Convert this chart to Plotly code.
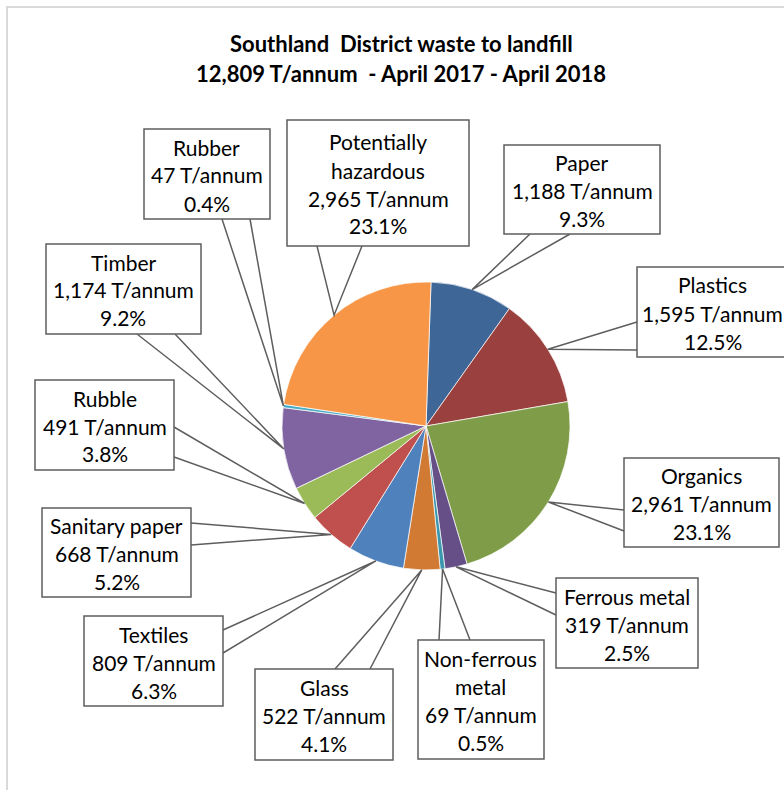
import math
import plotly.graph_objects as go

W, H = 784, 790

# ---- data ----
categories = ["Paper", "Plastics", "Organics", "Ferrous metal", "Non-ferrous metal", "Glass",
              "Textiles", "Sanitary paper", "Rubble", "Timber", "Rubber", "Potentially hazardous"]
tonnes = [1188, 1595, 2961, 319, 69, 522, 809, 668, 491, 1174, 47, 2965]
pct_labels = ["9.3%", "12.5%", "23.1%", "2.5%", "0.5%", "4.1%", "6.3%", "5.2%", "3.8%", "9.2%", "0.4%", "23.1%"]
name_lines = [["Paper"], ["Plastics"], ["Organics"], ["Ferrous metal"], ["Non-ferrous", "metal"], ["Glass"],
              ["Textiles"], ["Sanitary paper"], ["Rubble"], ["Timber"], ["Rubber"], ["Potentially", "hazardous"]]
title_lines = ["Southland  District waste to landfill", "12,809 T/annum  - April 2017 - April 2018"]

colors = ["#3E6798", "#9A403E", "#7F9C48", "#664F87", "#3A97AE", "#D07A33",
          "#4F81BD", "#C0504D", "#9BBB59", "#8064A2", "#4BACC6", "#F79646"]

# ---- layout parameters (pixels) ----
CX, CY, R = 426, 426, 144
ROT = 2
# label boxes: x0, y0, x1, y1 and the side of the box the callout leaves from with its two base offsets
boxes = {
    "Paper": (504, 145, 660, 234, "bottom", 530, 570),
    "Plastics": (637, 267, 792, 357, "left", 322, 350),
    "Organics": (624, 458, 779, 547, "left", 510, 531),
    "Ferrous metal": (556, 578, 698, 668, "left", 593, 615),
    "Non-ferrous metal": (418, 640, 544, 759, "top", 439, 470),
    "Glass": (255, 669, 393, 760, "top", 335, 370),
    "Textiles": (84, 616, 223, 706, "right", 630, 653),
    "Sanitary paper": (42, 508, 191, 597, "right", 523, 545),
    "Rubble": (35, 380, 174, 470, "right", 427, 457),
    "Timber": (46, 244, 201, 334, "bottom", 137, 175),
    "Rubber": (144, 129, 270, 219, "bottom", 222, 250),
    "Potentially hazardous": (287, 120, 469, 246, "bottom", 317, 362),
}


def px(x):
    return x / W


def py(y):
    return 1 - y / H


fig = go.Figure()
fig.add_trace(go.Pie(
    labels=categories, values=tonnes, sort=False, direction="clockwise", rotation=ROT,
    marker=dict(colors=colors, line=dict(color="rgba(255,255,255,0.7)", width=1)),
    textinfo="none", hoverinfo="label+value+percent", showlegend=False,
    domain=dict(x=[px(CX - R), px(CX + R)], y=[py(CY + R), py(CY - R)]),
))

shapes = []
annotations = []

# chart-area border
shapes.append(dict(type="path", xref="paper", yref="paper",
                   path=f"M {px(7)},{py(800)} L {px(7)},{py(7)} L {px(800)},{py(7)}",
                   line=dict(color="#D9D9D9", width=2)))

total = sum(tonnes)
cum = 0
for i, cat in enumerate(categories):
    v = tonnes[i]
    mid = cum + v / 2
    cum += v
    ang = math.radians(ROT + 360 * mid / total)
    tx = CX + R * math.sin(ang)
    ty = CY - R * math.cos(ang)
    x0, y0, x1, y1, side, b1, b2 = boxes[cat]
    if side == "bottom":
        p1, p2 = (b1, y1), (b2, y1)
    elif side == "top":
        p1, p2 = (b1, y0), (b2, y0)
    elif side == "left":
        p1, p2 = (x0, b1), (x0, b2)
    else:
        p1, p2 = (x1, b1), (x1, b2)
    shapes.append(dict(type="path", xref="paper", yref="paper",
                       path=f"M {px(p1[0])},{py(p1[1])} L {px(tx)},{py(ty)} L {px(p2[0])},{py(p2[1])}",
                       line=dict(color="#5E5E5E", width=1.5), fillcolor="rgba(0,0,0,0)"))
    shapes.append(dict(type="rect", xref="paper", yref="paper",
                       x0=px(x0), x1=px(x1), y0=py(y1), y1=py(y0),
                       line=dict(color="#5E5E5E", width=1.5), fillcolor="white"))
    lines = name_lines[i] + [f"{v:,} T/annum", pct_labels[i]]
    n = len(lines)
    bx = (x0 + min(x1, 788)) / 2
    by = (y0 + y1) / 2 + 1
    for k, t in enumerate(lines):
        yy = by + (k - (n - 1) / 2) * 28
        annotations.append(dict(text=t, x=px(bx), y=py(yy), xref="paper", yref="paper",
                                xanchor="center", yanchor="middle", showarrow=False,
                                font=dict(family="Lato", size=21, color="#000000")))

for k, t in enumerate(title_lines):
    annotations.append(dict(text=f"<b>{t}</b>", x=px(401), y=py(44 + 29 * k), xref="paper", yref="paper",
                            xanchor="center", yanchor="middle", showarrow=False,
                            font=dict(family="Lato", size=22, color="#000000")))

fig.update_layout(
    width=W, height=H, margin=dict(l=0, r=0, t=0, b=0),
    paper_bgcolor="white", plot_bgcolor="white",
    shapes=shapes, annotations=annotations,
)

fig.write_html("out.html")
